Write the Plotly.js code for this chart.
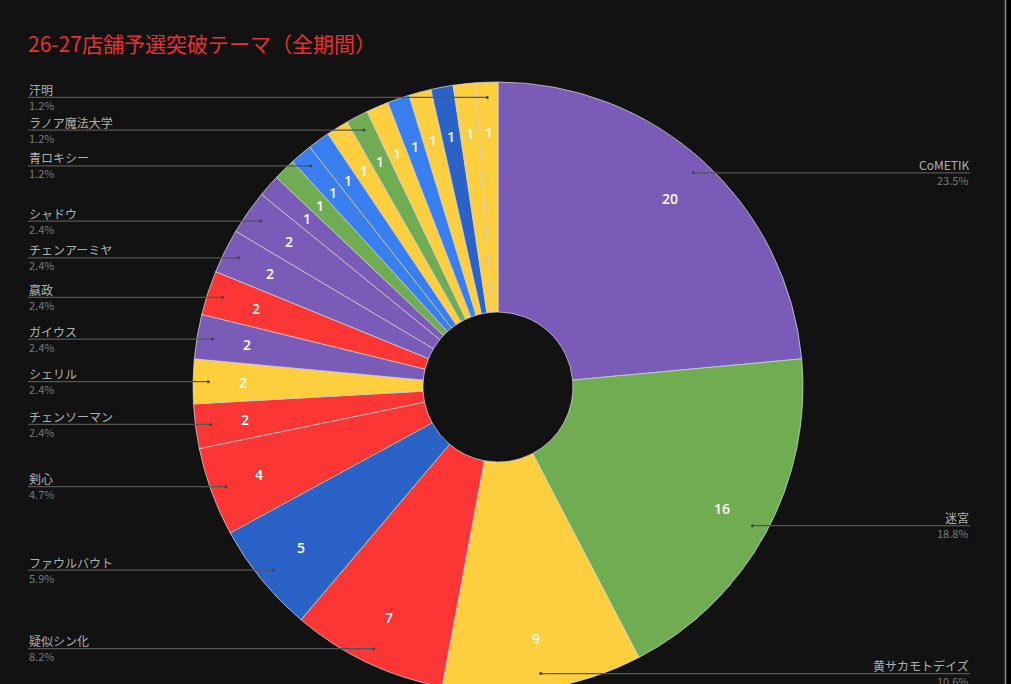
<!DOCTYPE html>
<html>
<head>
<meta charset="utf-8">
<script src="https://cdn.plot.ly/plotly-3.0.1.min.js"></script>
<style>
html,body{margin:0;padding:0;background:#121212;overflow:hidden;}
#chart{width:1011px;height:720px;}
</style>
</head>
<body>
<div id="chart"></div>
<script>
// ---- data ----
const categories = ["CoMETIK","迷宮","黄サカモトデイズ","疑似シン化","ファウルバウト","剣心","チェンソーマン","シェリル","ガイウス","嬴政","チェンアーミヤ","シャドウ",
  "その他1","その他2","青ロキシー","その他3","その他4","ラノア魔法大学","その他5","その他6","その他7","その他8","その他9","汗明"];
const values = [20,16,9,7,5,4,2,2,2,2,2,2, 1,1,1,1,1,1,1,1,1,1,1,1];
const sliceColors = ["#7a5cb8","#70ad52","#fdcf3f","#fc3535","#2b62c8","#fc3535","#fc3535","#fdcf3f","#7a5cb8","#fc3535","#7a5cb8","#7a5cb8",
  "#7a5cb8","#70ad52","#3a7ff0","#3a7ff0","#fdcf3f","#70ad52","#fdcf3f","#3a7ff0","#fdcf3f","#2b62c8","#fdcf3f","#fdcf3f"];
const labelShown = [true,true,true,true,true,true,true,true,true,true,true,true,
  false,false,true,false,false,true,false,false,false,false,false,true];

// ---- layout constants ----
const W = 1011, H = 720;
const cx = 498, cy = 387, R = 305;
const holeFrac = 0.246;
const px = x => x / W;
const py = y => 1 - y / H;

const total = values.reduce((a,b)=>a+b,0);
const annotations = [];
const shapes = [];

let cum = 0;
values.forEach((v,i)=>{
  const mid = (cum + v/2) / total * 2*Math.PI; // clockwise from 12 o'clock
  cum += v;
  const s = Math.sin(mid), c = Math.cos(mid);
  const tr = 0.835*R;
  annotations.push({xref:'paper',yref:'paper',x:px(cx+s*tr),y:py(cy-c*tr),text:String(v),showarrow:false,
    xanchor:'center',yanchor:'middle',font:{family:'Open Sans, Noto Sans CJK JP',size:14,color:'#ffffff',weight:600}});
  if(!labelShown[i]) return;
  const lr = 0.95*R;
  const ex = cx + s*lr, ey = cy - c*lr;
  const right = s >= 0;
  const lx = right ? 970 : 28;
  shapes.push({type:'line',xref:'paper',yref:'paper',x0:px(ex),y0:py(ey),x1:px(lx),y1:py(ey),line:{color:'#555555',width:1.2}});
  shapes.push({type:'circle',xref:'paper',yref:'paper',x0:px(ex-1.5),y0:py(ey-1.5),x1:px(ex+1.5),y1:py(ey+1.5),fillcolor:'#444444',line:{width:0}});
  const pct = (v/total*100).toFixed(1)+'%';
  annotations.push({xref:'paper',yref:'paper',x:px(lx),y:py(ey+1.5),text:categories[i],showarrow:false,borderpad:0,
    xanchor:right?'right':'left',yanchor:'bottom',font:{family:'Noto Sans CJK JP',size:12,color:'#b0b0b0'}});
  annotations.push({xref:'paper',yref:'paper',x:px(lx),y:py(ey-1.5),text:pct,showarrow:false,borderpad:0,
    xanchor:right?'right':'left',yanchor:'top',font:{family:'Noto Sans CJK JP',size:11,color:'#7a7a7a'}});
});

// right-edge frame decoration
shapes.push({type:'rect',xref:'paper',yref:'paper',x0:px(1006),x1:1,y0:0,y1:1,fillcolor:'#000000',line:{width:0}});
shapes.push({type:'line',xref:'paper',yref:'paper',x0:px(1005.5),x1:px(1005.5),y0:0,y1:1,line:{color:'#8a8a8a',width:1.5}});

const trace = {
  type:'pie',
  labels:categories,
  values:values,
  sort:false,
  direction:'clockwise',
  rotation:0,
  hole:holeFrac,
  textinfo:'none',
  hoverinfo:'none',
  marker:{colors:sliceColors,line:{color:'rgba(215,215,215,0.75)',width:1}},
  domain:{x:[px(cx-R),px(cx+R)],y:[py(cy+R),py(cy-R)]},
  showlegend:false
};

const layout = {
  width:W,height:H,
  margin:{l:0,r:0,t:0,b:0},
  paper_bgcolor:'#121212',
  plot_bgcolor:'#121212',
  showlegend:false,
  title:{text:'26-27店舗予選突破テーマ（全期間）',x:px(28),xref:'paper',xanchor:'left',y:py(45),yref:'paper',yanchor:'middle',
    font:{family:'Noto Sans CJK JP',size:21,color:'#e83030'}},
  annotations:annotations,
  shapes:shapes
};

Plotly.newPlot('chart',[trace],layout,{displayModeBar:false,staticPlot:true});
</script>
</body>
</html>
